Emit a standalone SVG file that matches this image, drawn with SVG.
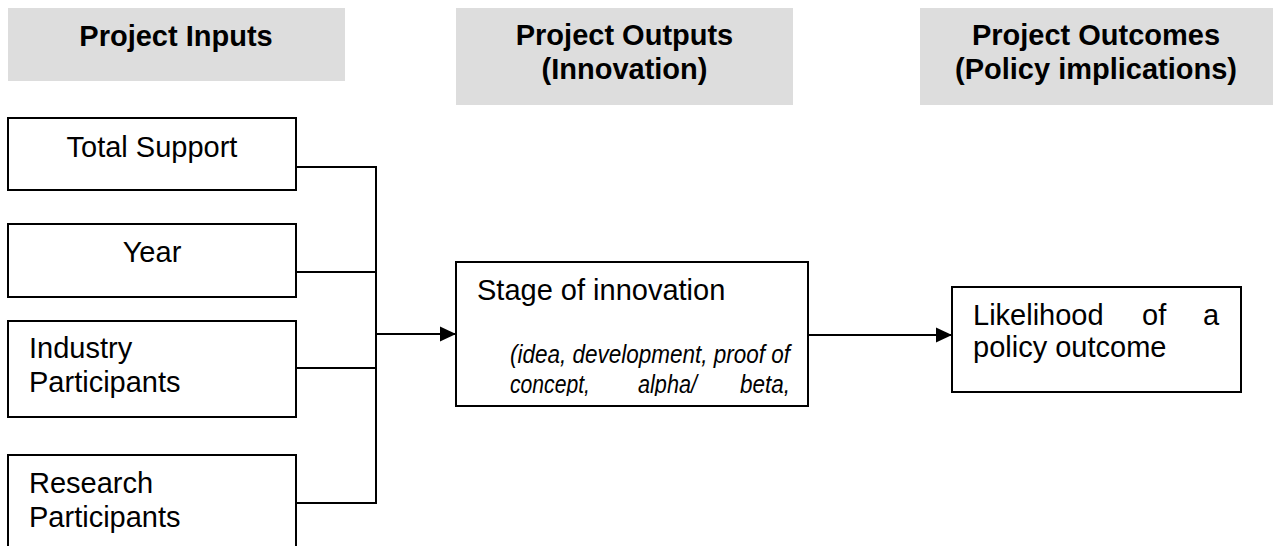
<svg xmlns="http://www.w3.org/2000/svg" width="1274" height="546" viewBox="0 0 1274 546">
<style>
.hdr{fill:#dddddd}
.ht{font-family:"Liberation Sans",Arial,sans-serif;font-weight:bold;font-size:29px;fill:#000;text-anchor:middle}
.box{fill:#fff;stroke:#000;stroke-width:2}
.t{font-family:"Liberation Sans",Arial,sans-serif;font-size:29px;fill:#000}
.c{text-anchor:middle}
.it{font-family:"Liberation Sans",Arial,sans-serif;font-style:italic;font-size:26px;fill:#000}
.ln{fill:none;stroke:#000;stroke-width:2}
</style>
<defs>
<marker id="arr" markerUnits="userSpaceOnUse" markerWidth="16" markerHeight="16" refX="16" refY="8" orient="auto">
<path d="M0,0.5 L16,8 L0,15.5 Z" fill="#000"/>
</marker>
<clipPath id="stageClip"><rect x="456" y="262" width="352" height="134"/></clipPath>
</defs>
<g id="header-inputs">
<rect class="hdr" x="8" y="8" width="337" height="73"/>
<text class="ht" x="176" y="46">Project Inputs</text>
</g>
<g id="header-outputs">
<rect class="hdr" x="456" y="8" width="337" height="97"/>
<text class="ht" x="624.5" y="45">Project Outputs</text>
<text class="ht" x="624.5" y="79">(Innovation)</text>
</g>
<g id="header-outcomes">
<rect class="hdr" x="920" y="8" width="353" height="97"/>
<text class="ht" x="1096" y="45">Project Outcomes</text>
<text class="ht" x="1096" y="79">(Policy implications)</text>
</g>
<g id="connectors">
<path class="ln" d="M296,167 H376 V503 H296"/>
<path class="ln" d="M296,272 H376"/>
<path class="ln" d="M296,368 H376"/>
<path class="ln" d="M376,334 H456" marker-end="url(#arr)"/>
<path class="ln" d="M808,335 H952" marker-end="url(#arr)"/>
</g>
<g id="node-total-support">
<rect class="box" x="8" y="118" width="288" height="72"/>
<text class="t c" x="152" y="157">Total Support</text>
</g>
<g id="node-year">
<rect class="box" x="8" y="224" width="288" height="73"/>
<text class="t c" x="152" y="262">Year</text>
</g>
<g id="node-industry">
<rect class="box" x="8" y="321" width="288" height="96"/>
<text class="t" x="29" y="358">Industry</text>
<text class="t" x="29" y="392">Participants</text>
</g>
<g id="node-research">
<path class="box" d="M8,547 V455 H296 V547"/>
<text class="t" x="29" y="493">Research</text>
<text class="t" x="29" y="527">Participants</text>
</g>
<g id="node-stage">
<rect class="box" x="456" y="262" width="352" height="144"/>
<text class="t" x="477" y="300">Stage of innovation</text>
<g clip-path="url(#stageClip)">
<text class="it" x="510" y="363" textLength="280" lengthAdjust="spacingAndGlyphs">(idea, development, proof of</text>
<text class="it" x="510" y="393" textLength="80" lengthAdjust="spacingAndGlyphs">concept,</text>
<text class="it" x="638" y="393" textLength="59" lengthAdjust="spacingAndGlyphs">alpha/</text>
<text class="it" x="740" y="393" textLength="50" lengthAdjust="spacingAndGlyphs">beta,</text>
</g>
</g>
<g id="node-likelihood">
<rect class="box" x="952" y="287" width="289" height="105"/>
<text class="t" x="973" y="325">Likelihood</text>
<text class="t" x="1142" y="325">of</text>
<text class="t" x="1203" y="325">a</text>
<text class="t" x="973" y="357">policy outcome</text>
</g>
</svg>
